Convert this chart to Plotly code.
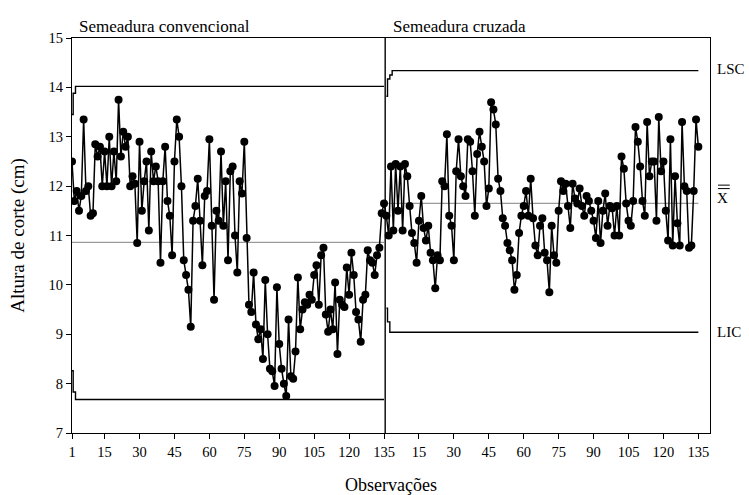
import plotly.graph_objects as go

# ---- data ----
conv = [12.5, 11.7, 11.9, 11.5, 11.8, 13.35, 11.9, 12.0, 11.4, 11.45, 12.85, 12.6, 12.8, 12.0, 12.7,
        12.0, 13.0, 12.0, 12.7, 12.1, 13.75, 12.6, 13.1, 12.8, 13.0, 12.0, 12.2, 12.05, 10.85, 12.9,
        11.5, 12.1, 12.5, 11.1, 12.7, 12.1, 12.4, 12.1, 10.45, 12.1, 12.8, 11.7, 11.4, 10.6, 12.5,
        13.35, 13.0, 12.0, 10.5, 10.2, 9.9, 9.15, 11.3, 11.6, 12.15, 11.3, 10.4, 11.8, 11.9, 12.95,
        11.2, 9.7, 11.5, 11.3, 12.7, 11.2, 12.1, 10.5, 12.3, 12.4, 11.0, 10.25, 12.1, 11.85, 12.9,
        10.95, 9.6, 9.45, 10.25, 9.2, 8.9, 9.1, 8.5, 10.1, 9.0, 8.3, 8.25, 7.95, 9.95, 8.8,
        8.3, 8.0, 7.75, 9.3, 8.15, 8.1, 8.65, 10.15, 9.1, 9.5, 9.65, 9.6, 9.8, 9.7, 10.2,
        10.4, 9.6, 10.6, 10.75, 9.4, 9.05, 9.5, 9.1, 10.05, 8.6, 9.7, 9.6, 9.55, 10.35, 9.8,
        10.65, 10.2, 9.45, 9.3, 8.85, 9.7, 9.8, 10.7, 10.5, 10.45, 10.2, 10.6, 10.75, 11.45, 11.65]

cruz = [11.4, 11.0, 12.4, 11.1, 12.45, 11.5, 12.4, 11.1, 12.45, 12.2, 11.6, 11.05, 10.85, 10.45, 11.3,
        11.8, 11.15, 10.9, 11.2, 10.65, 10.5, 9.93, 10.6, 10.5, 12.1, 12.0, 13.05, 11.4, 11.2, 10.5,
        12.3, 12.95, 12.2, 12.0, 11.8, 12.95, 12.9, 12.3, 11.4, 12.65, 13.1, 12.8, 12.5, 11.6, 11.95,
        13.7, 13.55, 13.25, 12.15, 11.9, 11.35, 11.2, 10.85, 10.7, 10.5, 9.9, 10.2, 11.05, 11.4, 11.6,
        11.9, 11.4, 12.15, 11.35, 10.8, 10.6, 11.2, 11.35, 10.65, 10.5, 9.85, 11.2, 10.6, 10.45, 11.5,
        12.1, 11.9, 12.05, 11.6, 11.15, 12.05, 11.75, 11.65, 11.95, 11.6, 11.4, 11.8, 11.7, 11.5, 11.3,
        10.95, 11.7, 10.85, 11.5, 11.85, 11.2, 11.6, 11.55, 11.0, 11.6, 11.0, 12.6, 12.35, 11.65, 11.3,
        11.2, 11.7, 13.2, 12.9, 12.4, 11.7, 11.4, 13.3, 12.2, 12.5, 12.5, 11.3, 13.4, 12.3, 12.5,
        11.5, 10.9, 12.95, 10.8, 12.2, 11.25, 10.8, 13.3, 12.0, 11.9, 10.75, 10.8, 11.9, 13.35, 12.8]

n_conv = len(conv)
n_cruz = len(cruz)

cl_conv, cl_cruz = 10.86, 11.65
ucl_conv_start, ucl_conv = [13.45, 13.88], 14.02
lcl_conv_start, lcl_conv = [8.26, 7.83], 7.68
ucl_cruz_start, ucl_cruz = [13.82, 14.17, 14.25], 14.34
lcl_cruz_start, lcl_cruz = [9.53, 9.25], 9.04

stage_labels = ["Semeadura convencional", "Semeadura cruzada"]
limit_labels = ["LSC", "X", "LIC"]
tick_obs = [1, 15, 30, 45, 60, 75, 90, 105, 120, 135]

# ---- build ----
x_conv = list(range(1, n_conv + 1))
x_cruz = list(range(n_conv + 1, n_conv + n_cruz + 1))

ucl1 = ucl_conv_start + [ucl_conv] * (n_conv - len(ucl_conv_start))
lcl1 = lcl_conv_start + [lcl_conv] * (n_conv - len(lcl_conv_start))
ucl2 = ucl_cruz_start + [ucl_cruz] * (n_cruz - len(ucl_cruz_start))
lcl2 = lcl_cruz_start + [lcl_cruz] * (n_cruz - len(lcl_cruz_start))

fig = go.Figure()
limit_line = dict(color="black", width=1.4, shape="hvh")
for xs, ys in [(x_conv, ucl1), (x_conv, lcl1), (x_cruz, ucl2), (x_cruz, lcl2)]:
    fig.add_trace(go.Scatter(x=xs, y=ys, mode="lines", line=limit_line, hoverinfo="skip"))
for xs, c in [(x_conv, cl_conv), (x_cruz, cl_cruz)]:
    fig.add_trace(go.Scatter(x=[xs[0], xs[-1]], y=[c, c], mode="lines",
                             line=dict(color="#9a9a9a", width=1.2), hoverinfo="skip"))

fig.add_trace(go.Scatter(x=x_conv + x_cruz, y=conv + cruz, mode="lines+markers",
                         line=dict(color="black", width=1.5),
                         marker=dict(color="black", size=8, symbol="circle")))

# stage divider
div = n_conv + 0.5
fig.add_shape(type="line", xref="x", yref="paper", x0=div, x1=div, y0=0, y1=1,
              line=dict(color="black", width=1.4))

tickvals = tick_obs + [n_conv + t for t in tick_obs[1:]]
ticktext = [str(t) for t in tick_obs] + [str(t) for t in tick_obs[1:]]

serif = "Liberation Serif"
fig.update_layout(
    width=749, height=495,
    margin=dict(l=72, r=39, t=38, b=62),
    paper_bgcolor="white", plot_bgcolor="white",
    showlegend=False,
    font=dict(family=serif, size=14, color="black"),
    xaxis=dict(range=[1, 275], tickvals=tickvals, ticktext=ticktext, automargin=False,
               showgrid=False, zeroline=False, showline=True, linecolor="black",
               linewidth=1.4, mirror=True, ticks="outside", ticklen=5, tickcolor="black",
               tickfont=dict(family=serif, size=14.5),
               title=dict(text="Observações", font=dict(family=serif, size=18), standoff=19)),
    yaxis=dict(range=[7, 15], tickvals=list(range(7, 16)), automargin=False,
               showgrid=False, zeroline=False, showline=True, linecolor="black",
               linewidth=1.4, mirror=True, ticks="outside", ticklen=5, tickcolor="black",
               tickfont=dict(family=serif, size=14.5),
               title=dict(text="Altura de corte (cm)", font=dict(family=serif, size=19), standoff=18)),
)

fig.add_annotation(x=3, y=1, xref="x", yref="paper", text=stage_labels[0], showarrow=False,
                   xanchor="left", yanchor="bottom", yshift=0, font=dict(family=serif, size=17))
fig.add_annotation(x=n_conv + 3, y=1, xref="x", yref="paper", text=stage_labels[1], showarrow=False,
                   xanchor="left", yanchor="bottom", yshift=0, font=dict(family=serif, size=17))

for txt, yv, ys in zip(limit_labels, [ucl_cruz, cl_cruz, lcl_cruz], [2, 5, 0]):
    fig.add_annotation(x=1, y=yv, xref="paper", yref="y", text=txt, showarrow=False,
                       xanchor="left", yanchor="middle", xshift=5, yshift=ys,
                       font=dict(family=serif, size=15))

# double bar over the X of the centre-line label
x0b, x1b = 1.0125, 1.031
for yb in [12.02, 11.95]:
    fig.add_shape(type="line", xref="paper", yref="y", x0=x0b, x1=x1b, y0=yb, y1=yb,
                  line=dict(color="black", width=1))

fig.write_html("out.html")
